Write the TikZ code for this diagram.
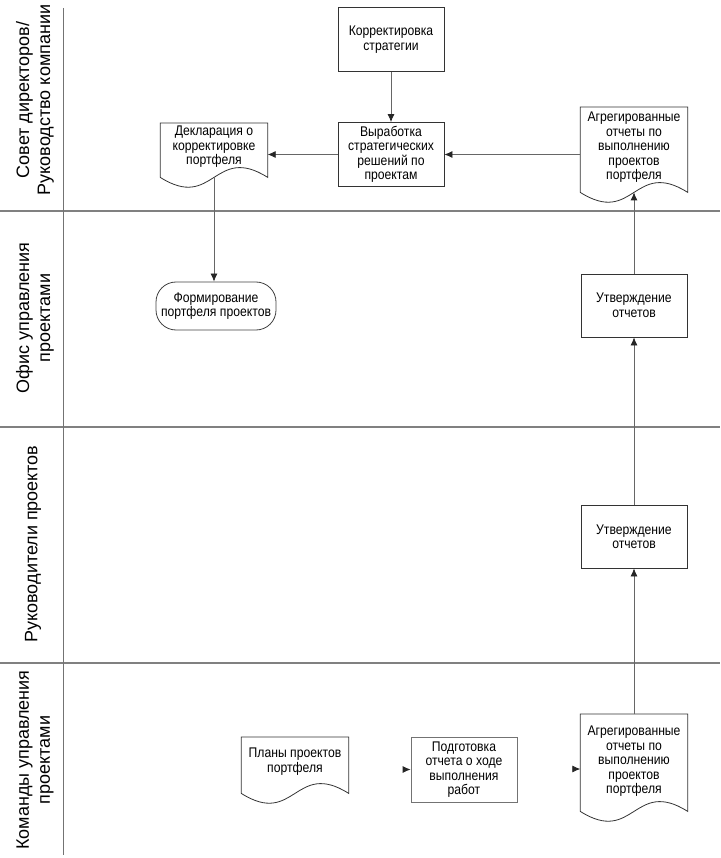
\documentclass[tikz,border=0pt]{standalone}
\usepackage{fontspec}
\setmainfont{Liberation Sans}
\newfontfamily\narrowfont[FakeStretch=0.87]{Liberation Sans}
\usetikzlibrary{arrows.meta,calc}
\tikzset{
  boxtext/.style={align=center, inner sep=0pt, font=\narrowfont\fontsize{14}{14.5}\selectfont},
  procbox/.style={boxtext, draw=black!80, line width=0.8pt, fill=white, minimum width=106pt, minimum height=64pt},
  docnode/.style={boxtext, draw=none, minimum width=107pt},
  docline/.style={draw=black!80, line width=0.8pt},
  termbox/.style={boxtext, draw=black!75, line width=0.8pt, minimum width=120pt, minimum height=48pt, rounded corners=20pt},
  arr/.style={draw=black!60, line width=0.8pt, arrows={-{Latex[length=8pt,width=7pt,color=black!85]}}},
  lane/.style={draw=black!50, line width=1.4pt},
  sep/.style={draw=black!55, line width=0.8pt},
  lanelabel/.style={rotate=90, align=center, font=\fontsize{18}{21}\selectfont, inner sep=0pt}
}
\newcommand\docpath[2]{%
  \draw[docline] (#1.north west) -- (#1.north east) -- ($(#1.south east)+(0,#2)$)
    .. controls ($(#1.south)+(0,#2-34)$) and ($(#1.south)+(0,#2+34)$) ..
    ($(#1.south west)+(0,#2)$) -- cycle;
  \coordinate (#1-bot) at ($(#1.south)+(0,#2)$);}
\begin{document}
\begin{tikzpicture}[x=1pt,y=-1pt]
\useasboundingbox (0,0) rectangle (720,858);
% lanes
\draw[lane] (0,211) -- (720,211);
\draw[lane] (0,427) -- (720,427);
\draw[lane] (0,663) -- (720,663);
\draw[sep] (63,8) -- (63,855);
\node[lanelabel] (l1) at (35,100) {Совет директоров/\\Руководство компании};
\node[lanelabel] (l2) at (35,318) {Офис управления\\проектами};
\node[lanelabel] (l3) at (33,544) {Руководители проектов};
\node[lanelabel] (l4) at (35,760) {Команды управления\\проектами};
% lane 1
\node[procbox] (korr) at (391,39.5) {Корректировка\\стратегии};
\node[procbox] (vyr) at (391,154.5) {Выработка\\стратегических\\решений по\\проектам};
\node[docnode, minimum height=47pt, anchor=north] (dek) at (214,123) {Декларация о\\корректировке\\портфеля};
\docpath{dek}{7}
\node[docnode, minimum height=80pt, anchor=north] (agg1) at (634,107) {Агрегированные\\отчеты по\\выполнению\\проектов\\портфеля};
\docpath{agg1}{5}
% lane 2
\node[termbox] (form) at (216,306) {Формирование\\портфеля проектов};
\node[procbox, minimum height=63pt] (utv1) at (634,305.5) {Утверждение\\отчетов};
% lane 3
\node[procbox, minimum height=63pt] (utv2) at (634,536.5) {Утверждение\\отчетов};
% lane 4
\node[docnode, minimum height=49pt, anchor=north] (plan) at (295,737) {Планы проектов\\портфеля};
\docpath{plan}{7}
\node[procbox, draw=black!55, minimum height=65pt] (prep) at (464,769.5) {Подготовка\\отчета о ходе\\выполнения\\работ};
\node[docnode, minimum height=94pt, anchor=north] (agg2) at (634,714) {Агрегированные\\отчеты по\\выполнению\\проектов\\портфеля};
\docpath{agg2}{3}
% connectors
\draw[arr] (korr) -- (vyr);
\draw[arr] (agg1.west |- vyr) -- (vyr.east);
\draw[arr] (vyr.west) -- (dek.east |- vyr);
\draw[arr] (dek-bot) -- (form.north -| dek-bot);
\draw[arr] (utv1.north) -- (agg1-bot);
\draw[arr] (utv2.north) -- (utv1.south);
\draw[arr] (agg2.north) -- (utv2.south);
\coordinate (t1) at ($(prep.west)+(-7,0)$);
\draw[arr] (t1) -- (prep.west);
\coordinate (t2e) at ($(agg2.north west)+(0,55)$);
\coordinate (t2) at ($(t2e)+(-7,0)$);
\draw[arr] (t2) -- (t2e);
\end{tikzpicture}
\end{document}
